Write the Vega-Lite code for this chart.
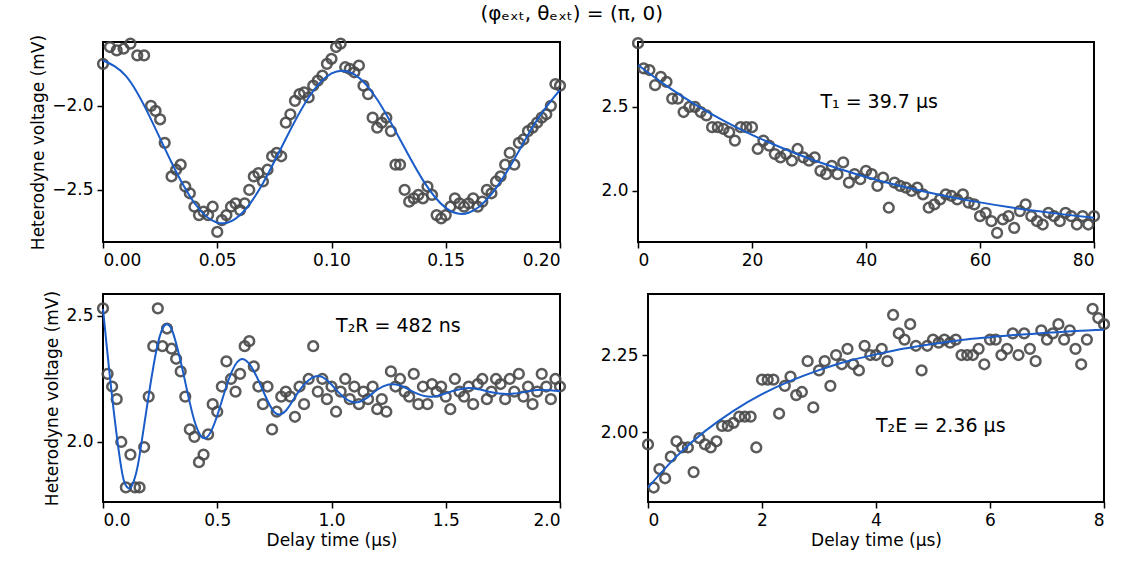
{
  "$schema": "https://vega.github.io/schema/vega-lite/v6.json",
  "background": "white",
  "padding": {"left": 28, "top": 4, "right": 10, "bottom": 4},
  "title": {"text": "(φₑₓₜ, θₑₓₜ) = (π, 0)", "fontSize": 20, "fontWeight": "normal", "font": "DejaVu Sans", "anchor": "middle", "offset": 8},
  "spacing": 20,
  "config": {
    "view": {"stroke": "black", "strokeWidth": 2},
    "font": "DejaVu Sans",
    "axis": {"domain": false, "grid": false, "tickColor": "black", "tickWidth": 1.5, "tickSize": 6, "labelFontSize": 17, "labelColor": "black", "titleFontSize": 17, "titleFontWeight": "normal", "titleColor": "black", "labelPadding": 4}
  },
  "datasets": {
    "tl": [
      {"t":0,"v":-1.75},{"t":0.003,"v":-1.65},{"t":0.006,"v":-1.67},{"t":0.009,"v":-1.66},{"t":0.012,"v":-1.63},{"t":0.015,"v":-1.7},{"t":0.018,"v":-1.7},{"t":0.021,"v":-2.0},{"t":0.023,"v":-2.03},{"t":0.025,"v":-2.08},{"t":0.027,"v":-2.22},{"t":0.03,"v":-2.42},{"t":0.032,"v":-2.38},{"t":0.034,"v":-2.35},{"t":0.036,"v":-2.48},{"t":0.038,"v":-2.52},{"t":0.04,"v":-2.6},{"t":0.042,"v":-2.65},{"t":0.044,"v":-2.63},{"t":0.046,"v":-2.65},{"t":0.048,"v":-2.6},{"t":0.05,"v":-2.75},{"t":0.052,"v":-2.68},{"t":0.054,"v":-2.65},{"t":0.056,"v":-2.6},{"t":0.058,"v":-2.58},{"t":0.06,"v":-2.62},{"t":0.062,"v":-2.58},{"t":0.064,"v":-2.5},{"t":0.066,"v":-2.42},{"t":0.068,"v":-2.4},{"t":0.07,"v":-2.45},{"t":0.072,"v":-2.38},{"t":0.074,"v":-2.3},{"t":0.076,"v":-2.28},{"t":0.078,"v":-2.3},{"t":0.08,"v":-2.1},{"t":0.082,"v":-2.05},{"t":0.084,"v":-1.97},{"t":0.086,"v":-1.93},{"t":0.088,"v":-1.92},{"t":0.09,"v":-1.95},{"t":0.092,"v":-1.88},{"t":0.094,"v":-1.85},{"t":0.096,"v":-1.82},{"t":0.098,"v":-1.75},{"t":0.1,"v":-1.72},{"t":0.102,"v":-1.65},{"t":0.104,"v":-1.63},{"t":0.106,"v":-1.77},{"t":0.108,"v":-1.78},{"t":0.11,"v":-1.8},{"t":0.112,"v":-1.76},{"t":0.114,"v":-1.88},{"t":0.116,"v":-1.93},{"t":0.118,"v":-2.07},{"t":0.12,"v":-2.13},{"t":0.122,"v":-2.1},{"t":0.124,"v":-2.07},{"t":0.126,"v":-2.15},{"t":0.128,"v":-2.35},{"t":0.13,"v":-2.35},{"t":0.132,"v":-2.5},{"t":0.134,"v":-2.57},{"t":0.136,"v":-2.55},{"t":0.138,"v":-2.53},{"t":0.14,"v":-2.55},{"t":0.142,"v":-2.48},{"t":0.144,"v":-2.53},{"t":0.146,"v":-2.65},{"t":0.148,"v":-2.67},{"t":0.15,"v":-2.65},{"t":0.152,"v":-2.6},{"t":0.154,"v":-2.55},{"t":0.156,"v":-2.58},{"t":0.158,"v":-2.6},{"t":0.16,"v":-2.58},{"t":0.162,"v":-2.55},{"t":0.164,"v":-2.6},{"t":0.166,"v":-2.57},{"t":0.168,"v":-2.5},{"t":0.17,"v":-2.52},{"t":0.172,"v":-2.45},{"t":0.174,"v":-2.42},{"t":0.176,"v":-2.35},{"t":0.178,"v":-2.28},{"t":0.18,"v":-2.35},{"t":0.182,"v":-2.22},{"t":0.184,"v":-2.2},{"t":0.186,"v":-2.15},{"t":0.188,"v":-2.13},{"t":0.19,"v":-2.1},{"t":0.192,"v":-2.07},{"t":0.194,"v":-2.05},{"t":0.196,"v":-2.0},{"t":0.198,"v":-1.87},{"t":0.2,"v":-1.88}
    ],
    "tlfit": [
      {"t":0,"v":-1.73},{"t":0.01,"v":-1.822},{"t":0.02,"v":-2.052},{"t":0.03,"v":-2.337},{"t":0.04,"v":-2.578},{"t":0.05,"v":-2.695},{"t":0.06,"v":-2.649},{"t":0.07,"v":-2.46},{"t":0.08,"v":-2.196},{"t":0.09,"v":-1.95},{"t":0.1,"v":-1.807},{"t":0.11,"v":-1.813},{"t":0.12,"v":-1.962},{"t":0.13,"v":-2.2},{"t":0.14,"v":-2.442},{"t":0.15,"v":-2.607},{"t":0.16,"v":-2.636},{"t":0.17,"v":-2.525},{"t":0.18,"v":-2.317},{"t":0.19,"v":-2.083},{"t":0.2,"v":-1.905}
    ],
    "tr": [
      {"t":0,"v":2.88},{"t":1,"v":2.73},{"t":2,"v":2.72},{"t":3,"v":2.63},{"t":4,"v":2.68},{"t":5,"v":2.65},{"t":6,"v":2.55},{"t":7,"v":2.55},{"t":8,"v":2.47},{"t":9,"v":2.5},{"t":10,"v":2.5},{"t":11,"v":2.47},{"t":12,"v":2.45},{"t":13,"v":2.38},{"t":14,"v":2.38},{"t":15,"v":2.37},{"t":16,"v":2.35},{"t":17,"v":2.3},{"t":18,"v":2.38},{"t":19,"v":2.38},{"t":20,"v":2.38},{"t":21,"v":2.25},{"t":22,"v":2.3},{"t":23,"v":2.27},{"t":24,"v":2.22},{"t":25,"v":2.2},{"t":26,"v":2.22},{"t":27,"v":2.18},{"t":28,"v":2.25},{"t":29,"v":2.2},{"t":30,"v":2.18},{"t":31,"v":2.2},{"t":32,"v":2.12},{"t":33,"v":2.1},{"t":34,"v":2.15},{"t":35,"v":2.1},{"t":36,"v":2.17},{"t":37,"v":2.05},{"t":38,"v":2.1},{"t":39,"v":2.07},{"t":40,"v":2.12},{"t":41,"v":2.1},{"t":42,"v":2.03},{"t":43,"v":2.08},{"t":44,"v":1.9},{"t":45,"v":2.05},{"t":46,"v":2.03},{"t":47,"v":2.02},{"t":48,"v":2.0},{"t":49,"v":2.02},{"t":50,"v":1.98},{"t":51,"v":1.9},{"t":52,"v":1.92},{"t":53,"v":1.95},{"t":54,"v":1.98},{"t":55,"v":1.97},{"t":56,"v":1.95},{"t":57,"v":1.98},{"t":58,"v":1.93},{"t":59,"v":1.92},{"t":60,"v":1.85},{"t":61,"v":1.87},{"t":62,"v":1.82},{"t":63,"v":1.75},{"t":64,"v":1.83},{"t":65,"v":1.85},{"t":66,"v":1.78},{"t":67,"v":1.88},{"t":68,"v":1.92},{"t":69,"v":1.85},{"t":70,"v":1.82},{"t":71,"v":1.8},{"t":72,"v":1.87},{"t":73,"v":1.85},{"t":74,"v":1.82},{"t":75,"v":1.87},{"t":76,"v":1.85},{"t":77,"v":1.8},{"t":78,"v":1.85},{"t":79,"v":1.8},{"t":80,"v":1.85}
    ],
    "trfit": [
      {"t":0,"v":2.75},{"t":5,"v":2.626},{"t":10,"v":2.516},{"t":15,"v":2.419},{"t":20,"v":2.334},{"t":25,"v":2.26},{"t":30,"v":2.193},{"t":35,"v":2.135},{"t":40,"v":2.083},{"t":45,"v":2.038},{"t":50,"v":1.998},{"t":55,"v":1.963},{"t":60,"v":1.932},{"t":65,"v":1.904},{"t":70,"v":1.88},{"t":75,"v":1.859},{"t":80,"v":1.84}
    ],
    "bl": [
      {"t":0,"v":2.53},{"t":0.02,"v":2.27},{"t":0.04,"v":2.22},{"t":0.06,"v":2.17},{"t":0.08,"v":2.0},{"t":0.1,"v":1.82},{"t":0.12,"v":1.95},{"t":0.14,"v":1.82},{"t":0.16,"v":1.82},{"t":0.18,"v":1.98},{"t":0.2,"v":2.18},{"t":0.22,"v":2.38},{"t":0.24,"v":2.53},{"t":0.26,"v":2.38},{"t":0.28,"v":2.45},{"t":0.3,"v":2.37},{"t":0.32,"v":2.33},{"t":0.34,"v":2.28},{"t":0.36,"v":2.18},{"t":0.38,"v":2.05},{"t":0.4,"v":2.02},{"t":0.42,"v":1.92},{"t":0.44,"v":1.95},{"t":0.46,"v":2.03},{"t":0.48,"v":2.15},{"t":0.5,"v":2.12},{"t":0.52,"v":2.22},{"t":0.54,"v":2.32},{"t":0.56,"v":2.25},{"t":0.58,"v":2.2},{"t":0.6,"v":2.27},{"t":0.62,"v":2.38},{"t":0.64,"v":2.4},{"t":0.66,"v":2.3},{"t":0.68,"v":2.22},{"t":0.7,"v":2.15},{"t":0.72,"v":2.22},{"t":0.74,"v":2.05},{"t":0.76,"v":2.12},{"t":0.78,"v":2.18},{"t":0.8,"v":2.2},{"t":0.82,"v":2.18},{"t":0.84,"v":2.1},{"t":0.86,"v":2.22},{"t":0.88,"v":2.15},{"t":0.9,"v":2.25},{"t":0.92,"v":2.38},{"t":0.94,"v":2.2},{"t":0.96,"v":2.25},{"t":0.98,"v":2.17},{"t":1.0,"v":2.22},{"t":1.02,"v":2.12},{"t":1.04,"v":2.2},{"t":1.06,"v":2.25},{"t":1.08,"v":2.17},{"t":1.1,"v":2.22},{"t":1.12,"v":2.15},{"t":1.14,"v":2.2},{"t":1.16,"v":2.17},{"t":1.18,"v":2.22},{"t":1.2,"v":2.13},{"t":1.22,"v":2.17},{"t":1.24,"v":2.12},{"t":1.26,"v":2.28},{"t":1.28,"v":2.22},{"t":1.3,"v":2.25},{"t":1.32,"v":2.2},{"t":1.34,"v":2.18},{"t":1.36,"v":2.27},{"t":1.38,"v":2.15},{"t":1.4,"v":2.22},{"t":1.42,"v":2.15},{"t":1.44,"v":2.23},{"t":1.46,"v":2.2},{"t":1.48,"v":2.22},{"t":1.5,"v":2.18},{"t":1.52,"v":2.13},{"t":1.54,"v":2.25},{"t":1.56,"v":2.2},{"t":1.58,"v":2.18},{"t":1.6,"v":2.22},{"t":1.62,"v":2.15},{"t":1.64,"v":2.23},{"t":1.66,"v":2.25},{"t":1.68,"v":2.17},{"t":1.7,"v":2.2},{"t":1.72,"v":2.25},{"t":1.74,"v":2.23},{"t":1.76,"v":2.17},{"t":1.78,"v":2.25},{"t":1.8,"v":2.2},{"t":1.82,"v":2.27},{"t":1.84,"v":2.18},{"t":1.86,"v":2.22},{"t":1.88,"v":2.15},{"t":1.9,"v":2.2},{"t":1.92,"v":2.27},{"t":1.94,"v":2.22},{"t":1.96,"v":2.17},{"t":1.98,"v":2.25},{"t":2.0,"v":2.22}
    ],
    "blfit": [
      {"t":0,"v":2.528},{"t":0.04,"v":2.178},{"t":0.08,"v":1.897},{"t":0.1,"v":1.828},{"t":0.12,"v":1.817},{"t":0.14,"v":1.86},{"t":0.16,"v":1.946},{"t":0.2,"v":2.185},{"t":0.24,"v":2.39},{"t":0.27,"v":2.463},{"t":0.29,"v":2.462},{"t":0.31,"v":2.423},{"t":0.35,"v":2.279},{"t":0.4,"v":2.084},{"t":0.45,"v":2.016},{"t":0.5,"v":2.105},{"t":0.55,"v":2.248},{"t":0.6,"v":2.327},{"t":0.65,"v":2.297},{"t":0.7,"v":2.204},{"t":0.75,"v":2.118},{"t":0.8,"v":2.124},{"t":0.85,"v":2.192},{"t":0.9,"v":2.245},{"t":0.95,"v":2.261},{"t":1.0,"v":2.228},{"t":1.05,"v":2.18},{"t":1.1,"v":2.157},{"t":1.15,"v":2.172},{"t":1.2,"v":2.207},{"t":1.25,"v":2.228},{"t":1.3,"v":2.224},{"t":1.35,"v":2.203},{"t":1.4,"v":2.184},{"t":1.45,"v":2.18},{"t":1.5,"v":2.193},{"t":1.6,"v":2.214},{"t":1.7,"v":2.197},{"t":1.8,"v":2.192},{"t":1.9,"v":2.206},{"t":2.0,"v":2.202}
    ],
    "br": [
      {"t":0,"v":1.96},{"t":0.1,"v":1.82},{"t":0.2,"v":1.88},{"t":0.3,"v":1.85},{"t":0.4,"v":1.92},{"t":0.5,"v":1.97},{"t":0.6,"v":1.95},{"t":0.7,"v":1.95},{"t":0.8,"v":1.87},{"t":0.9,"v":1.98},{"t":1.0,"v":1.96},{"t":1.1,"v":1.95},{"t":1.2,"v":1.97},{"t":1.3,"v":2.02},{"t":1.4,"v":2.02},{"t":1.5,"v":2.03},{"t":1.6,"v":2.05},{"t":1.7,"v":2.05},{"t":1.8,"v":2.05},{"t":1.9,"v":1.95},{"t":2.0,"v":2.17},{"t":2.1,"v":2.17},{"t":2.2,"v":2.17},{"t":2.3,"v":2.06},{"t":2.4,"v":2.15},{"t":2.5,"v":2.18},{"t":2.6,"v":2.12},{"t":2.7,"v":2.13},{"t":2.8,"v":2.23},{"t":2.9,"v":2.08},{"t":3.0,"v":2.2},{"t":3.1,"v":2.23},{"t":3.2,"v":2.15},{"t":3.3,"v":2.25},{"t":3.4,"v":2.22},{"t":3.5,"v":2.27},{"t":3.6,"v":2.22},{"t":3.7,"v":2.2},{"t":3.8,"v":2.28},{"t":3.9,"v":2.25},{"t":4.0,"v":2.25},{"t":4.1,"v":2.27},{"t":4.2,"v":2.23},{"t":4.3,"v":2.38},{"t":4.4,"v":2.32},{"t":4.5,"v":2.3},{"t":4.6,"v":2.35},{"t":4.7,"v":2.28},{"t":4.8,"v":2.2},{"t":4.9,"v":2.28},{"t":5.0,"v":2.3},{"t":5.1,"v":2.29},{"t":5.2,"v":2.3},{"t":5.3,"v":2.29},{"t":5.4,"v":2.3},{"t":5.5,"v":2.25},{"t":5.6,"v":2.25},{"t":5.7,"v":2.25},{"t":5.8,"v":2.27},{"t":5.9,"v":2.22},{"t":6.0,"v":2.3},{"t":6.1,"v":2.3},{"t":6.2,"v":2.25},{"t":6.3,"v":2.27},{"t":6.4,"v":2.32},{"t":6.5,"v":2.25},{"t":6.6,"v":2.32},{"t":6.7,"v":2.27},{"t":6.8,"v":2.23},{"t":6.9,"v":2.33},{"t":7.0,"v":2.3},{"t":7.1,"v":2.32},{"t":7.2,"v":2.35},{"t":7.3,"v":2.3},{"t":7.4,"v":2.33},{"t":7.5,"v":2.27},{"t":7.6,"v":2.22},{"t":7.7,"v":2.3},{"t":7.8,"v":2.4},{"t":7.9,"v":2.37},{"t":8.0,"v":2.35}
    ],
    "brfit": [
      {"t":0,"v":1.82},{"t":0.5,"v":1.921},{"t":1,"v":2.003},{"t":1.5,"v":2.069},{"t":2,"v":2.123},{"t":2.5,"v":2.166},{"t":3,"v":2.201},{"t":3.5,"v":2.23},{"t":4,"v":2.252},{"t":4.5,"v":2.271},{"t":5,"v":2.286},{"t":5.5,"v":2.299},{"t":6,"v":2.308},{"t":6.5,"v":2.316},{"t":7,"v":2.322},{"t":7.5,"v":2.328},{"t":8,"v":2.332}
    ]
  },
  "vconcat": [
    {
      "spacing": 28,
      "hconcat": [
        {
          "width": 457, "height": 200,
          "layer": [
            {"data": {"name": "tl"}, "mark": {"type": "point", "filled": false, "size": 95, "strokeWidth": 2.5, "color": "#4a4a4a", "opacity": 0.9},
             "encoding": {
               "x": {"field": "t", "type": "quantitative", "scale": {"domain": [0, 0.2], "nice": false}, "axis": {"values": [0, 0.05, 0.1, 0.15, 0.2], "format": ".2f", "title": null}},
               "y": {"field": "v", "type": "quantitative", "scale": {"domain": [-2.81, -1.62], "nice": false, "zero": false}, "axis": {"values": [-2.5, -2.0], "format": ".1f", "title": "Heterodyne voltage (mV)"}}}},
            {"data": {"name": "tlfit"}, "mark": {"type": "line", "interpolate": "natural", "color": "#1a5cc8", "strokeWidth": 2},
             "encoding": {"x": {"field": "t", "type": "quantitative"}, "y": {"field": "v", "type": "quantitative"}}}
          ]
        },
        {
          "width": 456, "height": 200,
          "layer": [
            {"data": {"name": "tr"}, "mark": {"type": "point", "filled": false, "size": 95, "strokeWidth": 2.5, "color": "#4a4a4a", "opacity": 0.9},
             "encoding": {
               "x": {"field": "t", "type": "quantitative", "scale": {"domain": [0, 80], "nice": false}, "axis": {"values": [0, 20, 40, 60, 80], "title": null}},
               "y": {"field": "v", "type": "quantitative", "scale": {"domain": [1.696, 2.887], "nice": false, "zero": false}, "axis": {"values": [2.0, 2.5], "format": ".1f", "title": null}}}},
            {"data": {"name": "trfit"}, "mark": {"type": "line", "interpolate": "natural", "color": "#1a5cc8", "strokeWidth": 2},
             "encoding": {"x": {"field": "t", "type": "quantitative"}, "y": {"field": "v", "type": "quantitative"}}},
            {"data": {"values": [{"label": "T₁ = 39.7 μs"}]}, "mark": {"type": "text", "fontSize": 19, "align": "left"},
             "encoding": {"x": {"datum": 32}, "y": {"datum": 2.53}, "text": {"field": "label"}}}
          ]
        }
      ]
    },
    {
      "spacing": 28,
      "hconcat": [
        {
          "width": 457, "height": 208,
          "layer": [
            {"data": {"name": "bl"}, "mark": {"type": "point", "filled": false, "size": 95, "strokeWidth": 2.5, "color": "#4a4a4a", "opacity": 0.9},
             "encoding": {
               "x": {"field": "t", "type": "quantitative", "scale": {"domain": [0, 2], "nice": false}, "axis": {"values": [0, 0.5, 1, 1.5, 2], "format": ".1f", "title": "Delay time (μs)"}},
               "y": {"field": "v", "type": "quantitative", "scale": {"domain": [1.762, 2.587], "nice": false, "zero": false}, "axis": {"values": [2.0, 2.5], "format": ".1f", "title": "Heterodyne voltage (mV)"}}}},
            {"data": {"name": "blfit"}, "mark": {"type": "line", "interpolate": "natural", "color": "#1a5cc8", "strokeWidth": 2},
             "encoding": {"x": {"field": "t", "type": "quantitative"}, "y": {"field": "v", "type": "quantitative"}}},
            {"data": {"values": [{"label": "T₂R = 482 ns"}]}, "mark": {"type": "text", "fontSize": 19, "align": "left"},
             "encoding": {"x": {"datum": 1.02}, "y": {"datum": 2.46}, "text": {"field": "label"}}}
          ]
        },
        {
          "width": 456, "height": 208,
          "layer": [
            {"data": {"name": "br"}, "mark": {"type": "point", "filled": false, "size": 95, "strokeWidth": 2.5, "color": "#4a4a4a", "opacity": 0.9},
             "encoding": {
               "x": {"field": "t", "type": "quantitative", "scale": {"domain": [0, 8], "nice": false}, "axis": {"values": [0, 2, 4, 6, 8], "format": "d", "title": "Delay time (μs)"}},
               "y": {"field": "v", "type": "quantitative", "scale": {"domain": [1.773, 2.448], "nice": false, "zero": false}, "axis": {"values": [2.0, 2.25], "format": ".2f", "title": null}}}},
            {"data": {"name": "brfit"}, "mark": {"type": "line", "interpolate": "natural", "color": "#1a5cc8", "strokeWidth": 2},
             "encoding": {"x": {"field": "t", "type": "quantitative"}, "y": {"field": "v", "type": "quantitative"}}},
            {"data": {"values": [{"label": "T₂E = 2.36 μs"}]}, "mark": {"type": "text", "fontSize": 19, "align": "left"},
             "encoding": {"x": {"datum": 4.0}, "y": {"datum": 2.02}, "text": {"field": "label"}}}
          ]
        }
      ]
    }
  ]
}
